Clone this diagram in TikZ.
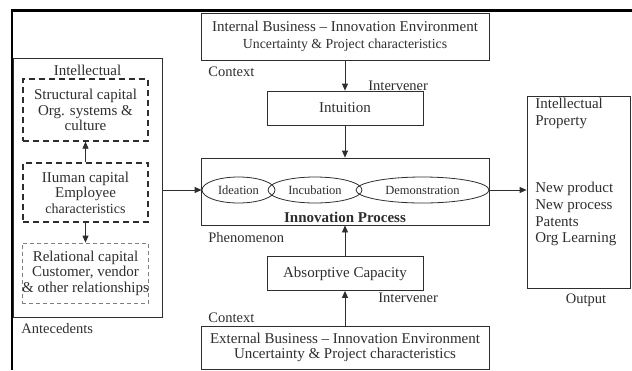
\documentclass[tikz,border=0pt]{standalone}
\usepackage{fontspec}
\setmainfont{Liberation Serif}
\usetikzlibrary{shapes.geometric,arrows.meta,positioning}
\definecolor{ink}{HTML}{2E2E2E}
\begin{document}
\begin{tikzpicture}[x=1pt, y=-1pt, line width=0.8pt, draw=ink, text=ink,
    box/.style = {draw, inner sep=0pt, align=center},
    capbox/.style = {draw, dashed, line width=1.3pt, dash pattern=on 6pt off 4pt, inner sep=0pt, align=center,
      minimum width=125, font=\fontsize{15}{15.5}\selectfont},
    phase/.style = {draw, ellipse, inner sep=0pt, minimum height=26, font=\fontsize{12.5}{14}\selectfont},
    tag/.style = {anchor=west, inner sep=0pt, font=\fontsize{14.5}{16}\selectfont},
    arr/.style = {-{Triangle[length=7pt,width=6pt]}}]
  \useasboundingbox (0,0) rectangle (632,370);
  % frame
  \draw[line width=3pt, black] (10.5,10) -- (632,10);
  \draw[line width=2pt, black] (12,10) -- (12,370);
  % environments
  \node[box, minimum width=288, minimum height=47, font=\fontsize{15}{17}\selectfont] (internal) at (345,36.5)
    {Internal Business -- Innovation Environment\\
     \fontsize{13.8}{17}\selectfont Uncertainty \& Project characteristics};
  \node[box, minimum width=156, minimum height=34, font=\fontsize{15}{17}\selectfont] (intuition) at (345,108) {Intuition};
  \node[box, minimum width=288, minimum height=67] (innov) at (345,191.5) {};
  \node[phase, minimum width=73] (ideation) at (238.5,190) {Ideation};
  \node[phase, minimum width=94] (incubation) at (315,190) {Incubation};
  \node[phase, minimum width=133] (demo) at (422.5,190) {Demonstration};
  \node[inner sep=0pt, font=\fontsize{15}{17}\selectfont\bfseries] (process) at (345,217) {Innovation Process};
  \node[box, minimum width=156, minimum height=34, font=\fontsize{15}{17}\selectfont] (absorp) at (345,273.5) {Absorptive Capacity};
  \node[box, minimum width=288, minimum height=43, font=\fontsize{15}{15.5}\selectfont] (external) at (345,347.5)
    {External Business -- Innovation Environment\\
     Uncertainty \& Project characteristics};
  % antecedents
  \node[box, minimum width=149, minimum height=259] (intel) at (87.5,187.5) {};
  \node[inner sep=0pt, font=\fontsize{15}{17}\selectfont] (intelname) at (87.5,70) {Intellectual};
  \node[capbox, minimum height=62] (structural) at (85.5,110)
    {Structural capital\\ Org. systems \&\\ culture};
  \node[capbox, minimum height=59] (human) at (85.5,192.5)
    {IIuman capital\\ Employee\\ \fontsize{14}{15.5}\selectfont characteristics};
  \node[capbox, line width=0.8pt, dash pattern=on 4pt off 3pt, draw=gray, minimum height=60] (relational) at (85.5,273)
    {Relational capital\\ Customer, vendor\\ \& other relationships};
  % output
  \node[box, minimum width=103, minimum height=192] (output) at (578.5,192) {};
  \node[inner sep=0pt, anchor=north west, align=left, font=\fontsize{15}{17}\selectfont] (ipname) at (535,98) {Intellectual\\ Property};
  \node[inner sep=0pt, anchor=north west, align=left, font=\fontsize{15}{16.7}\selectfont] (results) at (535,182)
    {New product\\ New process\\ Patents\\ Org Learning};
  % labels
  \node[tag] (ctxtop) at (208,72) {Context};
  \node[tag] (intertop) at (368,86) {Intervener};
  \node[tag] (phenom) at (208,238) {Phenomenon};
  \node[tag] (interbot) at (378,298) {Intervener};
  \node[tag] (ctxbot) at (208,318) {Context};
  \node[tag] (antec) at (21,329) {Antecedents};
  \node[tag, anchor=center] (outname) at (586,300) {Output};
  % connectors
  \draw[arr] (internal) -- (intuition);
  \draw[arr] (intuition) -- (innov);
  \draw[arr] (external) -- (absorp);
  \draw[arr] (absorp) -- (innov);
  \draw[arr] (human) -- (structural);
  \draw[arr] (human) -- (relational);
  \draw[arr] (intel.east |- ideation) -- (ideation.west);
  \draw[arr] (demo.east) -- (output.west |- demo);
\end{tikzpicture}
\end{document}
